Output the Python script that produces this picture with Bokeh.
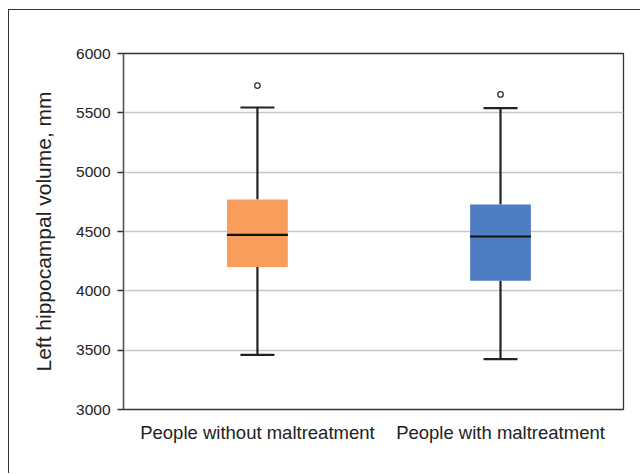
from bokeh.plotting import figure
from bokeh.models import Range1d, FixedTicker
from bokeh.embed import file_html
from bokeh.resources import INLINE

categories = ["People without maltreatment", "People with maltreatment"]
q1 = [4200, 4085]
median = [4472, 4458]
q3 = [4770, 4728]
lower_whisker = [3460, 3425]
upper_whisker = [5545, 5540]
outliers = [5730, 5655]
box_colors = ["#F89D5C", "#4F7DC1"]
y_ticks = [3000, 3500, 4000, 4500, 5000, 5500, 6000]

xs = list(range(len(categories)))
box_w = 0.25

p = figure(frame_width=500, frame_height=356, output_backend="svg", toolbar_location=None,
           x_range=Range1d(-0.551, 1.506), y_range=Range1d(3000, 6000),
           min_border_left=114, min_border_right=17, min_border_top=43, min_border_bottom=64,
           styles={"border-left": "1px solid #333", "border-top": "1px solid #333",
                   "margin-left": "8px", "margin-top": "9px"})
p.outline_line_color = "#333"
p.outline_line_width = 1.3
p.background_fill_color = "white"
p.border_fill_color = "white"

p.xgrid.grid_line_color = None
p.ygrid.grid_line_color = "#c8c8c8"
p.ygrid.grid_line_width = 1.6

p.yaxis.ticker = FixedTicker(ticks=y_ticks)
p.yaxis.axis_line_color = "#555"
p.yaxis.axis_line_width = 1.3
p.yaxis.major_tick_out = 6
p.yaxis.major_tick_in = 0
p.yaxis.major_tick_line_color = "#333"
p.yaxis.major_tick_line_width = 1.5
p.yaxis.minor_tick_line_color = None
p.yaxis.major_label_text_font = "Liberation Sans"
p.yaxis.major_label_text_font_size = "15.5px"
p.yaxis.major_label_text_color = "#222"
p.yaxis.major_label_standoff = 7
p.yaxis.axis_label = "Left hippocampal volume, mm"
p.yaxis.axis_label_text_font = "Liberation Sans"
p.yaxis.axis_label_text_font_size = "21px"
p.yaxis.axis_label_text_font_style = "normal"
p.yaxis.axis_label_text_color = "#222"
p.yaxis.axis_label_standoff = 18

p.xaxis.ticker = FixedTicker(ticks=xs)
p.xaxis.major_label_overrides = {i: c for i, c in zip(xs, categories)}
p.xaxis.axis_line_color = None
p.xaxis.major_tick_line_color = None
p.xaxis.minor_tick_line_color = None
p.xaxis.major_label_text_font = "Liberation Sans"
p.xaxis.major_label_text_font_size = "18.5px"
p.xaxis.major_label_text_color = "#222"
p.xaxis.major_label_standoff = 6

# whiskers
p.segment(x0=xs, y0=q3, x1=xs, y1=upper_whisker, line_color="#222", line_width=2.2)
p.segment(x0=xs, y0=lower_whisker, x1=xs, y1=q1, line_color="#222", line_width=2.2)
p.scatter(x=xs, y=upper_whisker, marker="dash", size=34, line_color="#222", line_width=2.2)
p.scatter(x=xs, y=lower_whisker, marker="dash", size=34, line_color="#222", line_width=2.2)
# boxes
p.vbar(x=xs, width=box_w, bottom=q1, top=q3, fill_color=box_colors, line_color=None)
# median
p.scatter(x=xs, y=median, marker="dash", size=61, line_color="#111", line_width=2.2)
# outliers
p.scatter(x=xs, y=outliers, marker="circle", size=5.5, fill_color="white",
          line_color="#333", line_width=1.3)

open("out.html", "w").write(file_html(p, INLINE))
